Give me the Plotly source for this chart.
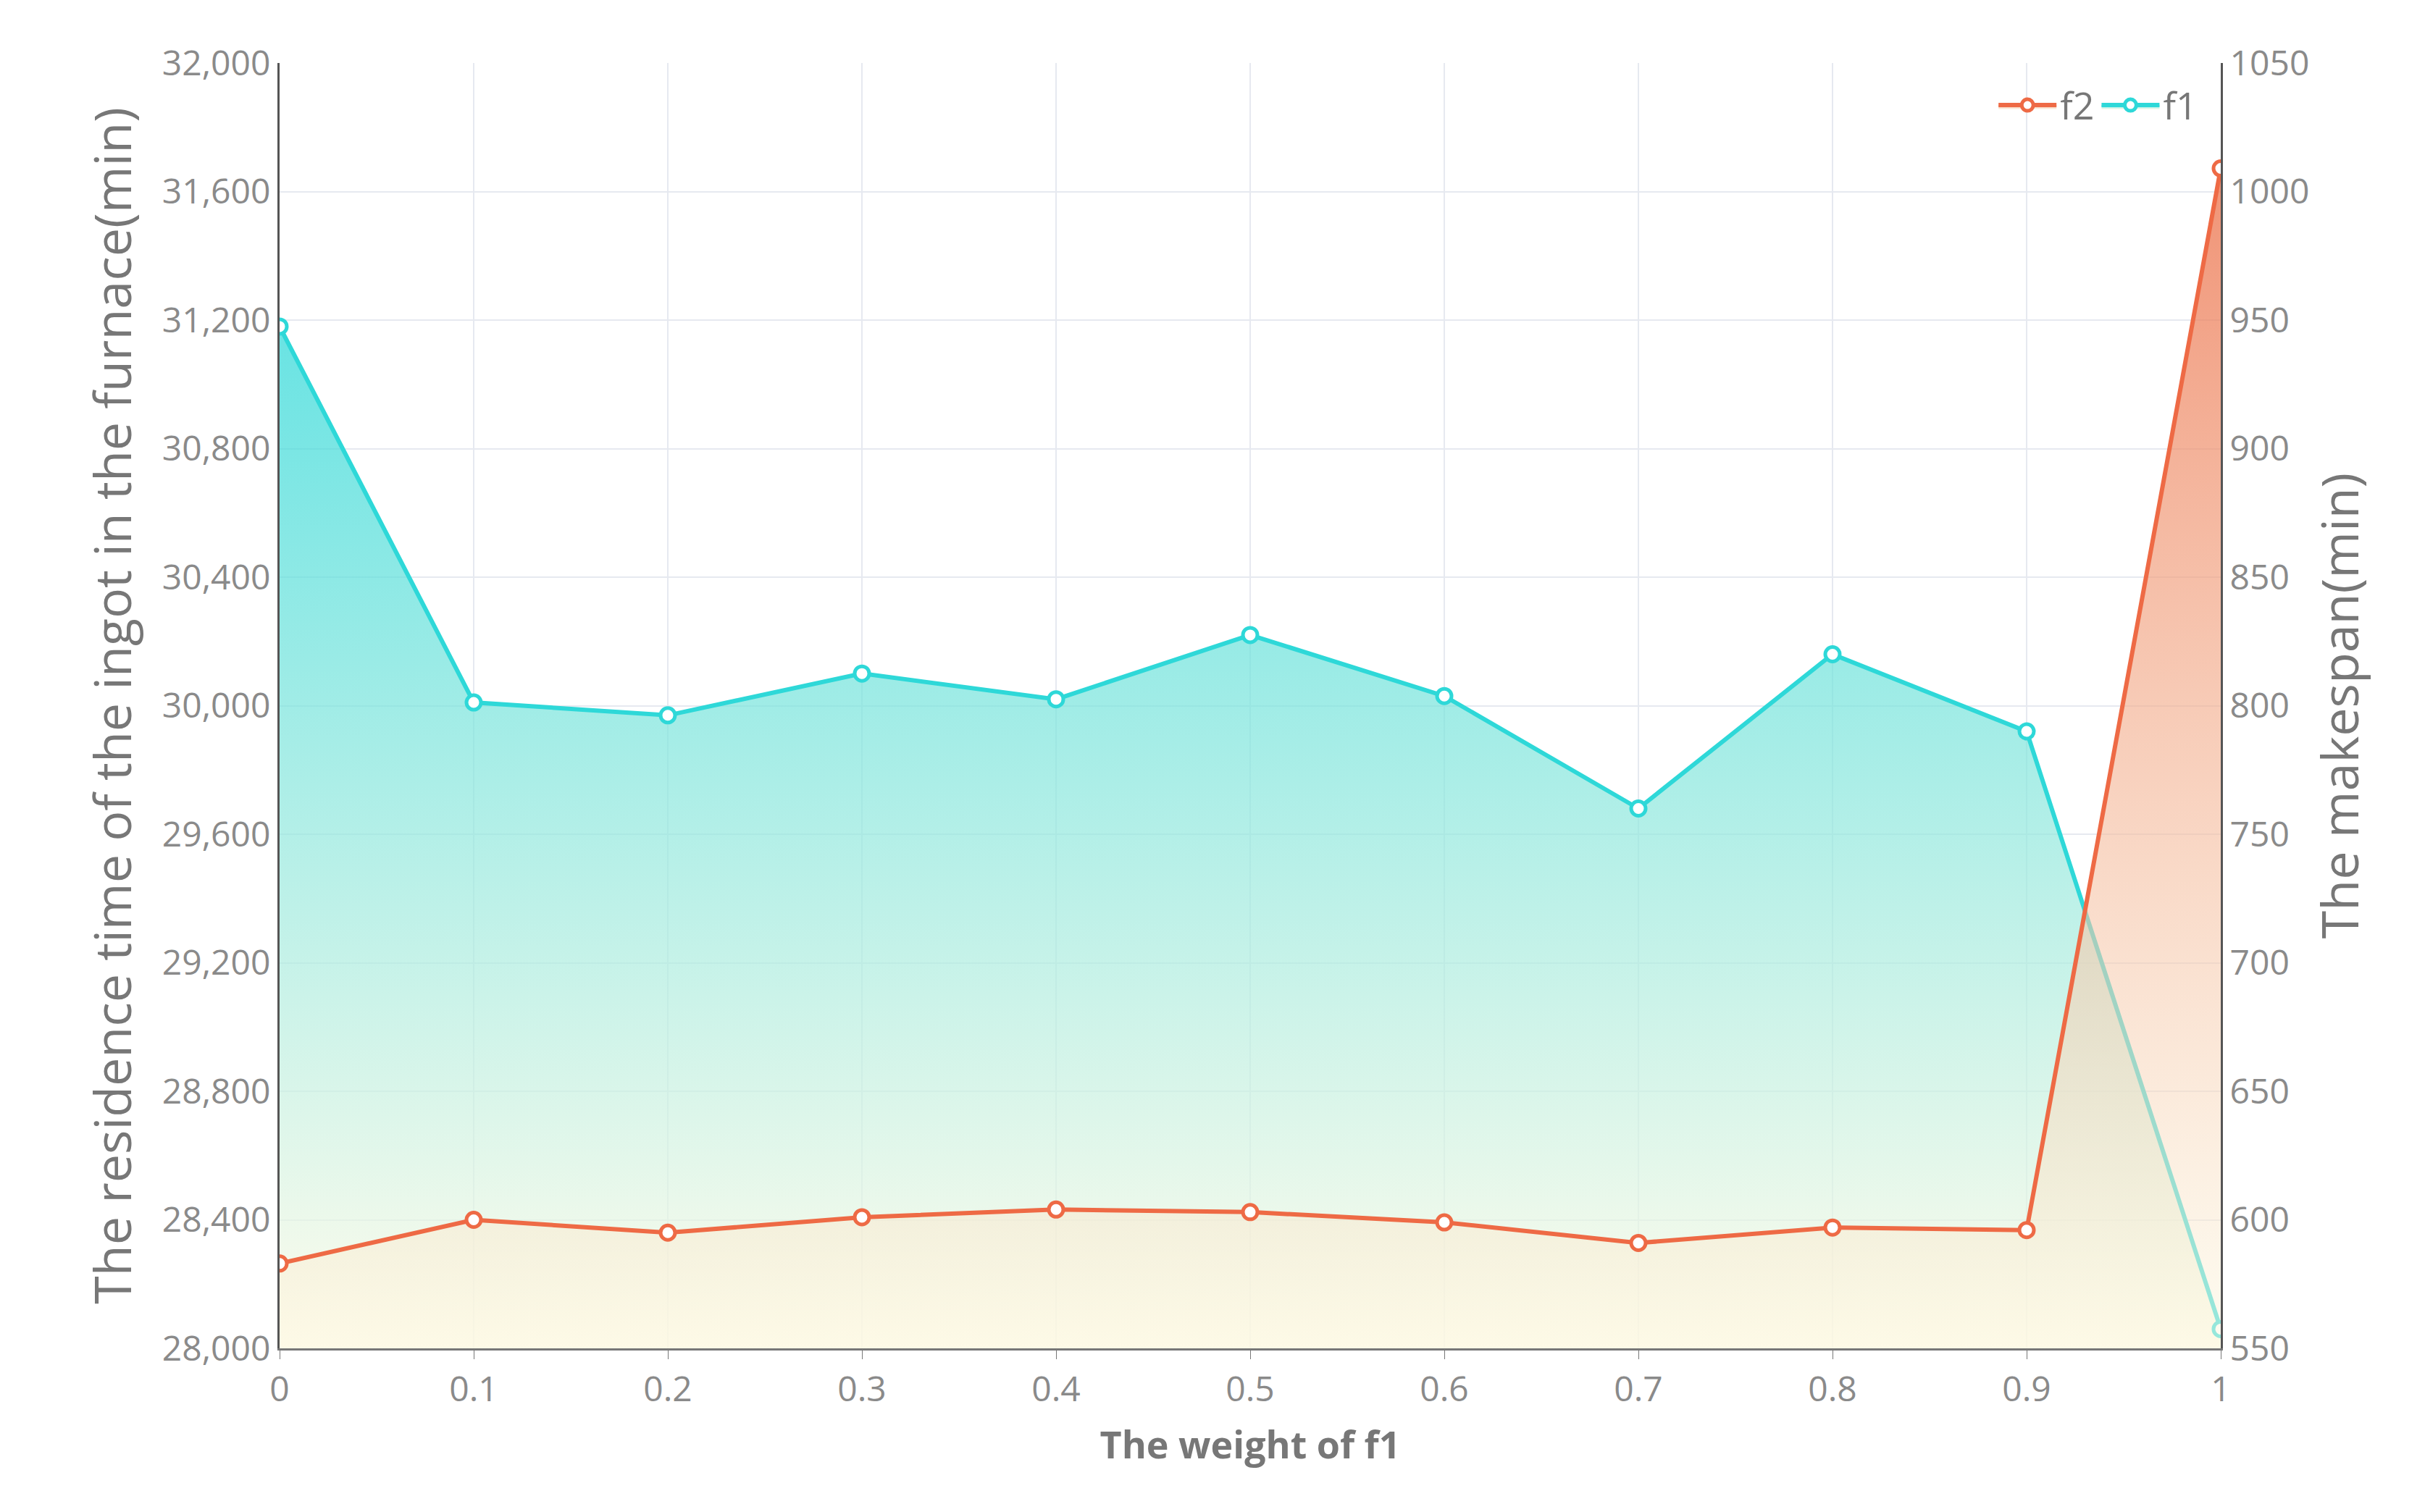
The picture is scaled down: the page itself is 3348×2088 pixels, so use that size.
import plotly.graph_objects as go

weights = [0, 0.1, 0.2, 0.3, 0.4, 0.5, 0.6, 0.7, 0.8, 0.9, 1]
f1 = [31180, 30010, 29970, 30100, 30020, 30220, 30030, 29680, 30160, 29920, 28060]
f2 = [583, 600, 595, 601, 604, 603, 599, 591, 597, 596, 1009]
f1_base = [28000] * len(weights)
f2_base = [550] * len(weights)

fig = go.Figure()
fig.add_trace(go.Scatter(x=weights, y=f1_base, mode="lines", line=dict(width=0),
                         showlegend=False, hoverinfo="skip"))
fig.add_trace(go.Scatter(
    x=weights, y=f1, name="f1", mode="lines+markers",
    line=dict(color="#2ed8d8", width=6),
    marker=dict(size=20, color="white", line=dict(color="#2ed8d8", width=5)),
    fill="tonexty",
    fillgradient=dict(type="vertical", colorscale=[[0, "rgba(255,250,228,0.7)"], [1, "rgba(40,215,215,0.7)"]]),
))
fig.add_trace(go.Scatter(x=weights, y=f2_base, yaxis="y2", mode="lines", line=dict(width=0),
                         showlegend=False, hoverinfo="skip"))
fig.add_trace(go.Scatter(
    x=weights, y=f2, name="f2", yaxis="y2", mode="lines+markers",
    line=dict(color="#ee6a45", width=6),
    marker=dict(size=20, color="white", line=dict(color="#ee6a45", width=5)),
    fill="tonexty",
    fillgradient=dict(type="vertical", colorscale=[[0, "rgba(252,248,225,0.5)"], [1, "rgba(235,110,70,0.75)"]]),
))

tick = dict(family="Open Sans, sans-serif", size=48, color="#8a8a8a")
fig.update_layout(
    width=3348, height=2088, plot_bgcolor="white", paper_bgcolor="white",
    margin=dict(l=378, r=290, t=79, b=234),
    xaxis=dict(range=[0, 1], tickvals=weights, ticktext=[str(w) for w in weights],
               showgrid=True, gridcolor="#e6e9f0", gridwidth=2, tickfont=tick,
               showline=True, linecolor="#777", linewidth=3, ticks="outside", ticklen=12,
               tickcolor="#777",
               title=dict(text="<b>The weight of f1</b>", font=dict(family="Open Sans, sans-serif", size=52, color="#777"), standoff=30)),
    yaxis=dict(range=[28000, 32000], dtick=400, tickformat=",", tickfont=tick,
               showgrid=True, gridcolor="#e6e9f0", gridwidth=2, zeroline=False,
               showline=True, linecolor="#555", linewidth=3,
               title=dict(text="The residence time of the ingot in the furnace(min)",
                          font=dict(family="Open Sans, sans-serif", size=70, color="#777"), standoff=20)),
    yaxis2=dict(range=[550, 1050], dtick=50, overlaying="y", side="right", tickfont=tick,
                showgrid=False, zeroline=False, showline=True, linecolor="#555", linewidth=3,
                title=dict(text="The makespan(min)", font=dict(family="Open Sans, sans-serif", size=70, color="#777"), standoff=20)),
    legend=dict(x=0.99, y=0.99, xanchor="right", yanchor="top", orientation="h",
                itemwidth=80, itemsizing="trace",
                font=dict(family="Open Sans, sans-serif", size=52, color="#777"), bgcolor="rgba(0,0,0,0)"),
)
fig.write_html("out.html")
